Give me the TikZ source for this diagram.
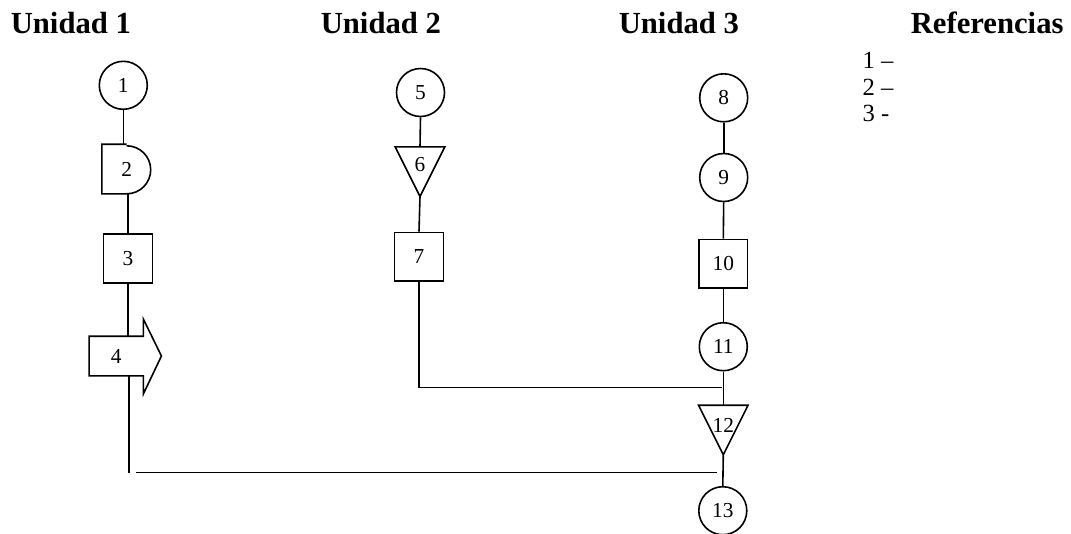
\documentclass[tikz,border=0pt]{standalone}
\usepackage{fontspec}
\setmainfont{Liberation Serif}
\usetikzlibrary{calc}
\tikzset{
    basic/.style  = {line width=1.2pt, inner sep=0pt, font=\fontsize{16}{19}\selectfont},
    op circle/.style = {basic, circle, draw, minimum size=36pt},
    op box/.style = {basic, rectangle, draw, minimum size=36.5pt},
    op free/.style = {basic, rectangle, minimum width=36pt, minimum height=36pt},
    tri text/.style = {basic, yshift=4.5pt},
    unit title/.style = {inner sep=0pt, anchor=base west, font=\fontsize{23}{27}\selectfont\bfseries},
    ref entry/.style = {inner sep=0pt, anchor=base west, font=\fontsize{18.5}{22}\selectfont}
}
\begin{document}
\begin{tikzpicture}[x=0.75pt, y=-0.75pt, line width=1.2pt]
	\useasboundingbox (0,0) rectangle (1071,533);
	% titles
	\node[unit title] (u1) at (10,33) {Unidad 1};
	\node[unit title] (u2) at (320,33) {Unidad 2};
	\node[unit title] (u3) at (618,33) {Unidad 3};
	\node[unit title] (ref) at (910,33) {Referencias};
	\node[ref entry] (r1) at (861.7,68.3) {1 –};
	\node[ref entry] (r2) at (861.7,95) {2 –};
	\node[ref entry] (r3) at (861.7,121.7) {3 -};
	% unidad 1
	\node[op circle] (c1) at (123.3,85.3) {1};
	\node[op free] (d2) at (126.7,169) {2};
	\draw (d2.north) -- (d2.north west) -- (d2.south west) -- (d2.south)
		arc[start angle=-90, end angle=90, radius=18pt];
	\node[op box] (b3) at (128,258.5) {3};
	\node[op free, minimum width=39.5pt, minimum height=28.5pt] (a4) at (116.3,356) {4};
	\draw (a4.north west) -- (a4.north east) -- ++(0,-17) -- ($(a4.east)+(18,0)$)
		-- ($(a4.south east)+(0,18)$) -- (a4.south east) -- (a4.south west) -- cycle;
	\coordinate (e1) at (129,472.7);
	\draw (c1.south) -- (c1.south |- d2.north);
	\draw (b3.north |- d2.south) -- (b3.north);
	\draw (b3.south) -- (b3.south |- a4.north);
	\draw (e1 |- a4.south) -- (e1);
	% unidad 2
	\node[op circle] (c5) at (420.5,92.5) {5};
	\node[op free, label={[tri text, yshift=1pt]center:6}] (t6) at (420,171.7) {};
	\draw (t6.north west) -- (t6.north east) -- (t6.south) -- cycle;
	\node[op box] (b7) at (419,256.7) {7};
	\coordinate (j2) at (721.7,387.3);
	\draw (c5.south) -- (t6.north);
	\draw (t6.south) -- (b7.north);
	\draw (b7.south) |- (j2);
	% unidad 3
	\node[op circle] (c8) at (723.7,97.8) {8};
	\node[op circle] (c9) at (723.7,177.5) {9};
	\node[op box] (b10) at (723.3,263.8) {10};
	\node[op circle] (c11) at (723.3,346.7) {11};
	\node[op free, label={[tri text, yshift=-1pt]center:12}] (t12) at (723.3,430) {};
	\draw (t12.north west) -- (t12.north east) -- (t12.south) -- cycle;
	\node[op circle] (c13) at (722.8,510.7) {13};
	\draw (c8.south) -- (c9.north);
	\draw (c9.south) -- (b10.north);
	\draw (b10.south) -- (c11.north);
	\draw (c11.south) -- (t12.north);
	\draw (t12.south) -- (c13.north);
	% union
	\coordinate (h1) at (136,472.3);
	\coordinate (h2) at (716.7,472.3);
	\draw (h1) -- (h2);
\end{tikzpicture}
\end{document}
